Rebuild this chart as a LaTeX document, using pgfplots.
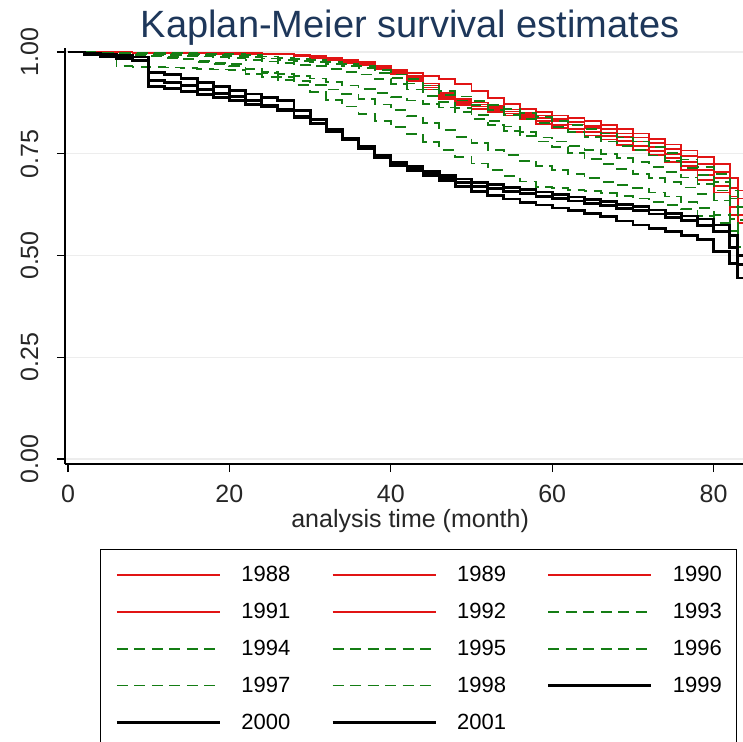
\documentclass[border=0pt]{standalone}
\usepackage{fontspec}
\setmainfont{Liberation Sans}
\usepackage{pgfplots}
\usepackage{pgfplotstable}
\pgfplotsset{compat=1.18}
\definecolor{kmred}{RGB}{225,20,20}
\definecolor{kmgreen}{RGB}{20,125,20}
\definecolor{kmtitle}{RGB}{30,55,90}
\pgfplotstableread{
t  r88   r89   r90   r91   r92   g93   g94   g95   g96   g97   g98   b99   b00   b01
0  1.000 1.000 1.000 1.000 1.000 1.000 1.000 1.000 1.000 1.000 1.000 1.000 1.000 1.000
2  1.000 1.000 1.000 1.000 1.000 1.000 0.999 0.999 0.999 0.998 0.997 0.997 0.995 0.995
4  1.000 1.000 0.999 0.999 0.999 0.999 0.999 0.998 0.997 0.996 0.993 0.994 0.990 0.989
6  1.000 0.999 0.999 0.999 0.999 0.999 0.998 0.997 0.996 0.994 0.965 0.991 0.985 0.984
8  0.999 0.999 0.999 0.999 0.998 0.998 0.998 0.996 0.994 0.992 0.964 0.988 0.980 0.978
10 0.999 0.999 0.998 0.998 0.998 0.998 0.997 0.995 0.993 0.990 0.963 0.950 0.915 0.930
12 0.999 0.998 0.998 0.998 0.998 0.997 0.996 0.993 0.987 0.986 0.962 0.945 0.911 0.926
14 0.999 0.998 0.998 0.998 0.997 0.997 0.995 0.991 0.982 0.982 0.960 0.935 0.903 0.917
16 0.998 0.998 0.997 0.997 0.997 0.996 0.993 0.989 0.976 0.978 0.959 0.925 0.896 0.908
18 0.998 0.997 0.997 0.997 0.996 0.996 0.992 0.987 0.971 0.974 0.957 0.915 0.888 0.899
20 0.998 0.997 0.997 0.997 0.996 0.995 0.990 0.985 0.965 0.970 0.955 0.905 0.880 0.890
22 0.997 0.997 0.996 0.996 0.995 0.992 0.987 0.981 0.958 0.959 0.947 0.897 0.872 0.880
24 0.996 0.996 0.996 0.996 0.995 0.989 0.984 0.977 0.952 0.948 0.939 0.888 0.865 0.870
26 0.995 0.996 0.995 0.995 0.994 0.986 0.981 0.973 0.946 0.939 0.931 0.880 0.857 0.860
28 0.993 0.993 0.992 0.991 0.990 0.983 0.978 0.969 0.941 0.929 0.919 0.857 0.840 0.841
30 0.990 0.990 0.988 0.987 0.986 0.980 0.975 0.965 0.935 0.920 0.901 0.834 0.824 0.823
32 0.985 0.985 0.983 0.981 0.980 0.975 0.970 0.958 0.927 0.908 0.883 0.811 0.808 0.804
34 0.980 0.980 0.977 0.976 0.974 0.970 0.965 0.952 0.918 0.897 0.866 0.789 0.788 0.784
36 0.975 0.975 0.972 0.970 0.968 0.965 0.960 0.945 0.910 0.885 0.848 0.767 0.765 0.762
38 0.965 0.965 0.962 0.959 0.957 0.955 0.948 0.933 0.900 0.871 0.830 0.745 0.742 0.740
40 0.955 0.955 0.952 0.948 0.945 0.945 0.936 0.921 0.890 0.857 0.815 0.730 0.725 0.720
42 0.949 0.942 0.937 0.933 0.928 0.933 0.923 0.908 0.881 0.842 0.798 0.718 0.713 0.708
44 0.942 0.923 0.918 0.913 0.908 0.918 0.908 0.893 0.873 0.825 0.779 0.706 0.701 0.696
46 0.934 0.900 0.895 0.890 0.885 0.904 0.894 0.878 0.864 0.808 0.760 0.696 0.690 0.683
48 0.921 0.885 0.880 0.875 0.870 0.891 0.881 0.862 0.852 0.792 0.743 0.688 0.680 0.670
50 0.904 0.876 0.871 0.866 0.861 0.880 0.869 0.846 0.836 0.776 0.726 0.680 0.670 0.657
52 0.888 0.868 0.863 0.858 0.853 0.870 0.858 0.830 0.820 0.760 0.710 0.674 0.664 0.648
54 0.873 0.859 0.854 0.849 0.844 0.860 0.846 0.817 0.807 0.747 0.696 0.668 0.658 0.639
56 0.861 0.851 0.846 0.840 0.835 0.850 0.835 0.803 0.793 0.733 0.682 0.662 0.652 0.631
58 0.852 0.844 0.838 0.830 0.824 0.840 0.825 0.790 0.780 0.720 0.668 0.656 0.646 0.624
60 0.844 0.836 0.830 0.820 0.813 0.830 0.815 0.780 0.766 0.710 0.665 0.650 0.640 0.617
62 0.837 0.828 0.822 0.811 0.804 0.820 0.803 0.770 0.751 0.700 0.661 0.644 0.634 0.610
64 0.830 0.819 0.813 0.804 0.795 0.810 0.791 0.760 0.737 0.690 0.658 0.638 0.628 0.603
66 0.821 0.810 0.802 0.794 0.785 0.800 0.780 0.750 0.724 0.681 0.653 0.632 0.622 0.595
68 0.810 0.800 0.791 0.782 0.772 0.790 0.770 0.740 0.712 0.673 0.646 0.626 0.616 0.585
70 0.800 0.790 0.780 0.770 0.760 0.780 0.760 0.730 0.700 0.665 0.640 0.620 0.610 0.575
72 0.787 0.777 0.767 0.757 0.747 0.766 0.746 0.718 0.690 0.655 0.632 0.612 0.602 0.567
74 0.773 0.761 0.750 0.740 0.730 0.752 0.732 0.706 0.680 0.645 0.624 0.604 0.594 0.559
76 0.758 0.744 0.730 0.720 0.710 0.736 0.716 0.692 0.667 0.632 0.615 0.597 0.586 0.550
78 0.742 0.725 0.710 0.697 0.685 0.718 0.698 0.676 0.651 0.616 0.598 0.590 0.574 0.540
80 0.725 0.705 0.690 0.670 0.655 0.700 0.680 0.660 0.635 0.600 0.580 0.575 0.560 0.510
82 0.690 0.665 0.645 0.620 0.600 0.660 0.640 0.620 0.590 0.560 0.550 0.550 0.520 0.480
83 0.660 0.640 0.620 0.600 0.580 0.640 0.620 0.587 0.555 0.520 0.500 0.500 0.477 0.445
84 0.660 0.640 0.620 0.600 0.580 0.640 0.620 0.587 0.555 0.520 0.500 0.500 0.477 0.445
}\km
\begin{document}
\begin{tikzpicture}
\begin{axis}[
  scale only axis,
  width=678bp, height=416bp,
  at={(0,0)}, anchor=south west,
  xmin=-0.37, xmax=83.64,
  ymin=-0.0123, ymax=1.01,
  axis x line*=bottom, axis y line*=left,
  axis line style={-, line width=1.2bp, black},
  tick align=outside,
  major tick length=8bp,
  tick style={line width=1.2bp, black},
  xtick={0,20,40,60,80},
  ytick={0,0.25,0.5,0.75,1},
  ymajorgrids,
  grid style={line width=1.2bp, black!7},
  /pgf/number format/assume math mode=true,
  tick label style={font=\fontsize{25bp}{30bp}\selectfont, text=black!85},
  yticklabel style={rotate=90, anchor=south, /pgf/number format/.cd, fixed, fixed zerofill, precision=2},
  yticklabel shift=15bp,
  xticklabel shift=10bp,
  every axis title shift=0pt,
  title={Kaplan-Meier survival estimates},
  title style={at={(axis description cs:0.509,1.048)}, anchor=center, font=\fontsize{38bp}{42bp}\selectfont, text=kmtitle},
  xlabel={analysis time (month)},
  xlabel style={at={(axis description cs:0.509,-0.137)}, anchor=center, font=\fontsize{25bp}{30bp}\selectfont, text=black!85},
  legend columns=3,
  legend cell align=left,
  legend style={draw=black, line width=1.2bp, at={(axis description cs:0.0516,-0.2043)}, anchor=north west,
    inner xsep=15bp, inner ysep=17bp, row sep=20bp,
    font=\fontsize{22bp}{26bp}\selectfont,
    nodes={inner sep=0pt},
    /tikz/every even column/.append style={column sep=41bp}},
  redl/.style={const plot, color=kmred, line width=1.8bp,
    legend image code/.code={\color{kmred}\draw[color=kmred, line width=1.8bp] (0bp,0bp) -- (103bp,0bp); \path (123bp,0bp);}},
  grnl/.style={const plot, color=kmgreen, line width=1.8bp, dash pattern=on 11bp off 6.5bp,
    legend image code/.code={\color{kmgreen}\draw[color=kmgreen, line width=1.8bp, dash pattern=on 11bp off 6.5bp] (0bp,0bp) -- (103bp,0bp); \path (123bp,0bp);}},
  blkl/.style={const plot, color=black, line width=2.8bp,
    legend image code/.code={\color{black}\draw[color=black, line width=2.8bp] (0bp,0bp) -- (103bp,0bp); \path (123bp,0bp);}},
]
\addplot[redl] table[x=t, y=r88] {\km}; \addlegendentry{1988}
\addplot[redl] table[x=t, y=r89] {\km}; \addlegendentry{1989}
\addplot[redl] table[x=t, y=r90] {\km}; \addlegendentry{1990}
\addplot[redl] table[x=t, y=r91] {\km}; \addlegendentry{1991}
\addplot[redl] table[x=t, y=r92] {\km}; \addlegendentry{1992}
\addplot[grnl] table[x=t, y=g93] {\km}; \addlegendentry{1993}
\addplot[grnl] table[x=t, y=g94] {\km}; \addlegendentry{1994}
\addplot[grnl] table[x=t, y=g95] {\km}; \addlegendentry{1995}
\addplot[grnl] table[x=t, y=g96] {\km}; \addlegendentry{1996}
\addplot[grnl] table[x=t, y=g97] {\km}; \addlegendentry{1997}
\addplot[grnl] table[x=t, y=g98] {\km}; \addlegendentry{1998}
\addplot[blkl] table[x=t, y=b99] {\km}; \addlegendentry{1999}
\addplot[blkl] table[x=t, y=b00] {\km}; \addlegendentry{2000}
\addplot[blkl] table[x=t, y=b01] {\km}; \addlegendentry{2001}
\end{axis}
\pgfresetboundingbox
\path[use as bounding box] (-65bp,-278bp) rectangle (678bp,464bp);
\end{tikzpicture}
\end{document}
